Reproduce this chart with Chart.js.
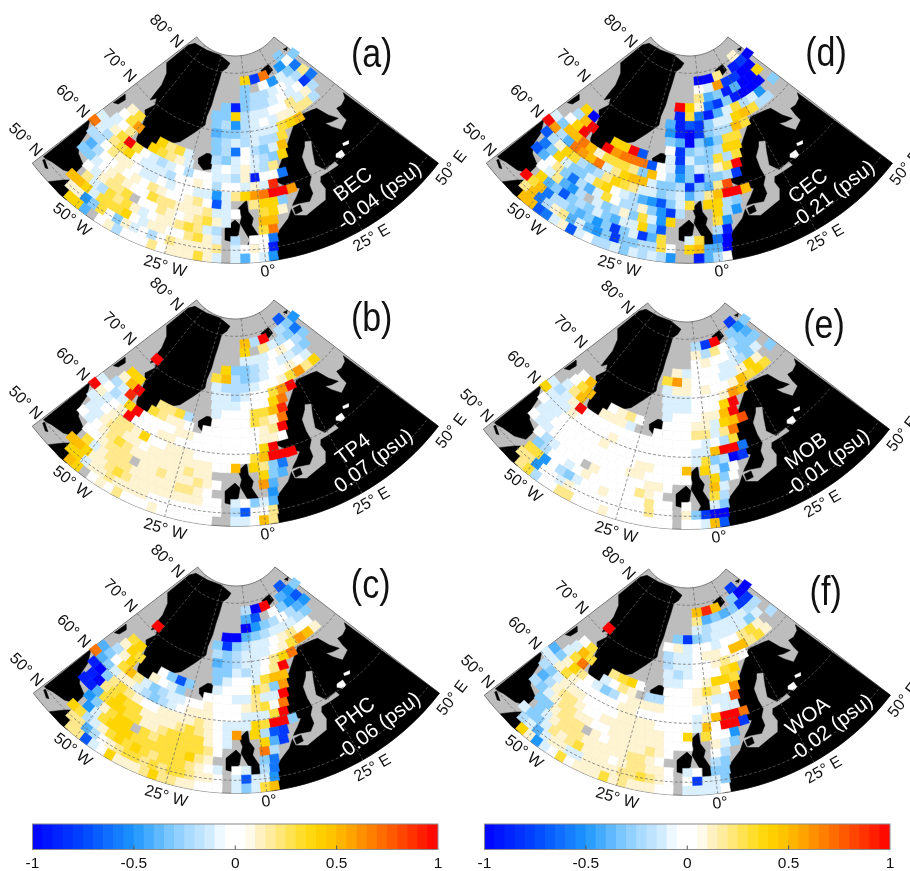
<!DOCTYPE html>
<html>
<head>
<meta charset="utf-8">
<script src="https://cdn.jsdelivr.net/npm/chart.js@4"></script>
<style>
  html, body { margin: 0; background: #fff; width: 910px; height: 871px; overflow: hidden; }
  canvas { position: absolute; }
</style>
</head>
<body>
<script>
const _ = null;

// grid rows, south to north
const rowLats = [48.6,50.1,51.6,53.1,54.6,56.1,57.6,59.1,60.6,62.1,63.6,65.1,66.6,68.1,69.6,71.1,72.6,74.1,75.6,77.1,78.6,80.1];
const rowFirstCol = [-19,-19,-19,-19,-18,-18,-18,-17,-17,-16,-15,-14,-12,-12,-2,-9,-2,-2,1,1,1,4];

// salinity differences, in tenths of psu, one list per grid row
const becRows = [
  [4,4,-4,_,0,1,-2,0,0,0,2,0,1,1,1,3,1,-1,_,-1,-4,0,-1,-5],
  [1,1,-5,-3,3,0,-3,1,-1,0,-2,0,2,1,1,1,1,2,_,-1,0,1,0,-9],
  [5,5,4,-1,3,3,3,4,0,-1,1,1,0,0,2,3,1,-1,_,-2,_,0,0,-6],
  [_,_,2,-1,-2,3,2,3,1,-1,0,1,1,2,3,2,-1,-2,_,_,_,_,3,7],
  [_,0,-1,1,2,2,3,_,0,0,2,1,0,1,2,3,1,-1,_,_,_,5,5],
  [-3,-3,-1,0,1,2,1,0,0,3,2,2,1,1,1,2,-1,-1,0,_,_,3,4,1],
  [_,-4,-2,0,0,1,0,1,0,2,1,0,0,1,2,0,-7,-1,_,_,2,4,4,-3],
  [-2,-2,0,2,1,1,0,-1,-1,0,-1,0,0,-1,-1,-5,-1,2,4,6,7,10,10,6],
  [7,-1,-2,2,3,4,0,-1,-1,-1,-2,0,0,1,0,-2,0,0,-1,1,-1,9,_,_],
  [-1,-1,1,3,10,3,0,-1,-2,-1,0,-2,0,0,-1,-1,-2,1,-9,0,0,-6,_,_],
  [_,-1,0,2,_,_,4,3,2,1,-1,_,_,-1,0,-1,1,-1,-2,2,_,_],
  [_,0,3,6,_,_,4,2,3,-1,_,_,-2,-3,-1,0,-1,-2,-3,4,_],
  [1,3,_,_,_,_,_,_,_,_,-3,-2,-6,0,-2,-3,-1,5],
  [_,_,_,_,_,_,_,_,_,_,-3,-2,-1,-2,-1,-2,-2,3,_],
  [-4,-3,-3,-2,-1,-1,-1,3,4,5],
  [_,_,_,_,_,_,_,-3,-2,-5,-2,-1,0,-1,1,1,2,2,-2],
  [-3,-3,4,-2,-1,-1,0,0,2,-1,1,-2,_],
  [_,-3,-9,-3,-2,-2,-1,0,-1,0,-8,-6],
  [-3,-2,-2,-1,0,-1,-2,2],
  [-3,_,0,-5,-1,-3,-6],
  [4,-8,7,_,-5,0,-3],
  [_,-3]
];
const tp4Rows = [
  [5,4,_,0,1,0,2,0,0,0,1,0,0,0,0,0,0,_,_,-1,-1,0,5,2],
  [4,4,-1,1,1,2,1,1,1,1,0,0,0,0,0,0,0,0,_,-2,-7,0,0,2],
  [5,5,4,1,1,2,3,2,1,1,1,1,1,1,1,1,0,0,_,-1,0,-3,-1,-4],
  [_,_,3,-1,1,2,2,2,1,1,1,1,1,2,2,1,0,_,_,_,_,_,_,-5],
  [_,0,0,1,2,2,2,_,1,1,2,1,1,1,2,1,0,_,_,_,_,6,-4],
  [0,-1,0,1,2,3,2,1,1,1,1,1,1,2,1,1,_,_,_,_,_,4,-3,-4],
  [_,-1,-1,1,2,2,1,1,0,1,1,1,1,1,1,1,0,0,5,_,4,2,-3,-6],
  [-1,-1,0,1,2,2,1,4,0,0,1,1,1,0,0,0,0,0,0,3,5,10,10,10],
  [10,1,-1,0,1,10,0,0,0,1,1,0,0,0,0,0,0,0,0,0,4,10,_,_],
  [-1,0,-2,-1,4,10,0,0,0,0,1,1,0,0,0,0,0,0,0,1,1,0,_,_],
  [_,-2,-1,9,_,_,3,2,1,1,0,_,0,0,0,0,0,0,1,2,10,_],
  [_,1,5,10,_,_,2,2,3,-2,_,_,0,0,0,0,3,2,1,7,_],
  [4,4,_,_,_,_,_,_,_,_,-1,0,0,0,3,3,5,9],
  [_,_,_,_,_,_,_,_,_,_,-1,-1,-1,0,0,0,4,7,_],
  [-1,-1,-2,-1,0,0,3,6,10,_],
  [10,_,_,_,_,_,_,-1,-2,-2,-2,-1,0,0,1,3,6,2,4],
  [3,5,-2,-3,-2,-1,0,0,1,0,-1,_,_],
  [_,4,-3,-3,-2,-1,0,-1,-1,-2,-3,_],
  [-1,-1,-1,0,1,0,-2,-3],
  [4,_,2,-1,-2,-3,-6],
  [5,-2,10,_,-2,-3,-5],
  [_,-7]
];
const phcRows = [
  [2,2,-7,-1,0,4,1,1,1,2,4,2,2,1,1,0,0,0,_,-1,-3,-1,3,5],
  [2,2,-4,-2,0,1,2,3,3,2,3,2,3,3,2,1,1,0,_,-1,-7,-1,-1,-5],
  [4,3,-2,-1,1,3,4,3,4,3,2,3,3,3,2,1,0,-1,_,0,-1,_,-2,-6],
  [_,_,-5,-1,3,4,4,4,3,3,3,3,3,3,4,2,1,_,_,_,_,_,-3,-6],
  [_,-5,-3,1,3,4,4,_,3,2,3,3,3,3,3,2,0,_,_,_,_,7,-2],
  [-9,-9,-4,3,4,4,3,3,1,1,2,3,3,3,3,1,0,-1,_,_,_,4,-4,-8],
  [_,-9,-10,2,3,4,3,3,1,1,1,1,2,3,2,1,0,-1,6,_,4,-2,-7,-8],
  [-9,-10,-3,2,3,2,1,0,0,1,1,1,1,2,1,0,-1,-1,-1,4,3,10,10,-3],
  [7,-4,-3,-1,1,1,-1,-2,-3,-2,-1,0,1,1,1,0,0,0,-1,-1,-1,3,10,_],
  [-4,-3,0,3,5,2,-1,-3,-2,-1,-1,0,0,1,0,0,0,1,2,3,0,7,_,_],
  [_,-2,1,4,_,_,1,0,-1,-3,_,_,0,0,0,-1,-1,2,-1,-1,10,_],
  [_,1,4,3,_,_,0,-3,-7,-3,_,_,-1,0,0,0,3,2,-3,6,_],
  [3,4,_,_,_,_,_,_,_,_,-3,-1,0,0,-1,3,5,5],
  [_,_,_,_,_,_,_,_,_,_,-3,-3,-1,-2,-1,0,2,10,_],
  [-4,-3,-2,-1,-1,0,2,4,7,_],
  [10,_,_,_,_,_,_,-2,-3,-2,-1,-1,-1,0,1,3,6,5,1],
  [-3,-8,-3,-2,-1,-1,0,1,2,0,0,_,_],
  [_,-10,-10,-4,-3,-2,-1,-1,-1,-2,-3,_],
  [-10,-5,-3,-2,0,-2,-4,-5],
  [-4,-7,_,0,-3,-5,-7],
  [-2,-10,10,_,-4,-5,-3],
  [_,-7]
];
const cecRows = [
  [5,5,-7,-6,-1,1,-7,-1,0,-2,-2,-1,-3,-1,-2,-1,-2,-5,_,_,-9,-4,-2,0],
  [2,5,-6,-2,1,2,-4,-1,-4,-5,-3,-8,-3,-3,-2,-2,3,0,_,4,5,-4,-4,-10],
  [10,3,5,-6,-2,-2,-3,-4,-3,-5,-3,-8,-3,-1,-8,-4,3,_,_,-1,3,_,-6,-10],
  [_,_,4,-4,-3,-7,-3,-2,-3,-1,-3,-4,-1,-1,4,-3,-7,_,_,_,_,_,-2,-9],
  [_,0,-1,2,-4,-5,-2,_,-1,-3,-2,1,-3,3,-1,-5,4,_,_,_,_,3,-5],
  [-7,-4,0,2,-3,-6,-2,-4,-1,3,0,-2,-2,1,-3,-5,-8,-2,_,_,_,4,-2,-5],
  [_,-6,-3,4,-1,-3,-3,-1,3,4,0,-1,-2,-4,-5,-7,-3,-1,3,_,4,4,-2,-3],
  [-7,-2,1,4,3,-2,-3,-2,2,4,3,2,-1,-1,-3,-2,-1,-4,-2,2,5,10,10,5],
  [10,6,-2,-4,7,6,5,7,-1,2,4,5,5,-1,-3,-3,-2,-8,-3,-4,2,8,_,_],
  [-1,-3,5,5,7,5,1,3,3,3,2,-3,5,0,-2,-5,-3,-9,-3,-3,-2,-8,_,_],
  [_,0,4,10,_,_,10,6,7,7,7,-7,0,-1,-6,-3,-1,-2,1,3,10,_],
  [_,-2,5,10,_,_,4,4,10,-7,_,_,-1,-8,-1,-3,-3,3,-2,3,_],
  [4,-10,_,_,_,_,_,_,_,_,0,-8,-3,-2,-3,-2,4,4],
  [_,_,_,_,_,_,_,_,_,_,-3,-4,-10,-3,-5,-3,3,3,_],
  [-5,-9,-10,-8,-3,-2,-2,5,3,_],
  [_,_,_,_,_,_,_,-4,-9,-7,-8,-3,-1,-1,4,5,3,-2,-2],
  [_,-9,3,-6,-9,-4,-1,3,-2,-1,-5,_,-3],
  [_,10,4,1,-6,-8,-3,-9,-10,-10,-10,_],
  [2,-4,-3,-9,-4,-10,-10,4],
  [0,-1,6,-8,-8,-10,-10],
  [-10,-10,2,_,-9,-8,-10],
  [_,1]
];
const mobRows = [
  [2,3,-2,0,0,2,2,0,0,0,1,0,0,0,0,0,0,0,_,0,0,-1,5,-7],
  [2,2,-5,0,0,-1,1,0,0,0,0,0,0,0,0,2,0,0,_,1,-3,-8,-10,-10],
  [_,3,3,-5,0,-2,-3,-1,0,0,1,0,0,0,0,2,0,0,_,0,_,_,-1,-3],
  [_,_,-3,-2,0,0,-1,0,1,0,0,0,0,0,2,1,0,_,_,_,_,_,3,-2],
  [_,0,-2,-1,0,0,0,_,1,0,0,0,0,0,1,1,0,_,_,_,_,5,-1],
  [0,-1,-1,0,0,0,0,0,0,0,0,0,1,1,0,0,0,0,0,_,_,4,-3,0],
  [_,-1,-1,0,0,0,0,0,0,0,0,0,0,1,1,0,0,0,5,_,4,-1,-4,0],
  [0,-1,-1,0,0,0,0,0,1,0,0,0,0,0,0,0,0,0,-1,3,-3,-2,-10,-8],
  [4,-1,-1,-1,1,0,0,0,0,1,0,0,0,0,0,0,0,0,-1,-1,5,10,10,-6],
  [-1,-2,-1,1,10,0,0,0,0,0,0,0,0,0,0,0,0,0,-1,0,-2,3,_,_],
  [_,-1,2,5,_,_,1,1,1,-1,_,_,0,0,0,0,2,2,-1,2,7,_],
  [_,0,3,5,_,_,0,1,2,0,_,_,0,0,0,1,1,-1,4,5,8],
  [0,5,_,_,_,_,_,_,_,_,-1,0,0,0,1,1,5,10],
  [_,_,_,_,_,_,_,_,_,_,-1,-1,-1,0,0,0,4,10,_],
  [-1,-1,-1,0,0,0,1,6,5,_],
  [_,_,_,_,_,_,_,-1,1,1,0,1,0,0,1,5,3,4,3],
  [3,6,1,0,0,0,-1,-1,1,4,1,_,-3],
  [_,1,-1,0,0,0,-1,-1,-2,-3,-1,_],
  [0,1,0,0,-1,-3,-3,-3],
  [1,-2,2,0,-2,-3,-4],
  [-2,-8,10,_,-3,-5,-3],
  [_,-8]
];
const woaRows = [
  [4,1,-5,-1,0,3,0,1,1,1,3,1,2,1,1,1,0,0,_,-1,-1,-1,-1,0],
  [-2,-1,-4,-1,1,1,-1,-1,1,1,1,1,2,2,3,2,1,0,_,0,-8,-1,-1,-3],
  [-1,-3,-3,-1,2,1,2,3,1,1,1,0,1,2,2,1,1,0,_,-1,0,_,-3,-3],
  [_,_,-3,-1,1,2,2,2,1,1,1,1,1,2,2,1,0,_,_,_,_,_,-2,-3],
  [_,-3,-3,1,2,2,2,_,1,0,1,1,1,1,2,1,0,_,_,_,_,0,-2],
  [-2,-3,-1,1,2,2,1,1,0,0,1,1,1,1,1,1,0,0,0,_,_,1,-1,-3],
  [_,-4,-2,1,2,2,1,0,0,1,1,1,1,1,1,1,0,0,4,_,3,0,0,-5],
  [-2,-3,-1,1,1,1,0,0,0,0,1,1,1,1,0,0,0,0,-1,5,0,10,10,-8],
  [-1,-1,1,3,1,0,0,0,0,0,1,1,0,0,0,0,0,0,-1,1,5,10,10,7],
  [-4,-3,1,4,2,0,-1,-3,-2,0,1,1,1,1,0,0,0,0,-1,0,-1,-1,_,_],
  [_,-1,3,7,_,_,-1,0,2,1,_,-2,-2,0,0,0,1,1,-1,-1,8,_],
  [_,-1,5,3,_,_,2,3,4,0,_,_,0,0,0,1,3,2,0,6,_],
  [0,3,_,_,_,_,_,_,_,_,-1,-1,0,0,1,4,4,3],
  [_,_,_,_,_,_,_,_,_,_,-1,-2,-1,0,0,0,3,4,_],
  [-2,-1,-1,0,0,1,2,1,0,_],
  [10,_,_,_,_,_,_,-2,-1,-1,0,1,1,0,5,5,2,3,1],
  [0,1,-1,0,0,-1,0,0,2,3,1,_,-2],
  [_,-3,-8,-3,-2,-1,-1,-1,-1,-3,-1,_],
  [-1,-2,-1,-1,-1,-1,-2,-2],
  [2,-4,-3,-4,-3,-8,-8],
  [5,9,5,_,-3,-10,-10],
  [_,-8]
];

const panelNames = ["BEC","TP4","PHC","CEC","MOB","WOA"];
const panelMeans = ["-0.04 (psu)","0.07 (psu)","-0.06 (psu)","-0.21 (psu)","-0.01 (psu)","-0.02 (psu)"];
const panelLetters = ["(a)","(b)","(c)","(d)","(e)","(f)"];
const panelRows = [becRows,tp4Rows,phcRows,cecRows,mobRows,woaRows];

// coastlines in map units (3 units = 1 px)
const baffin = [[70,470],[210,358],[200,400],[180,430],[175,460],[190,495],[165,520],[130,510],[95,485],[75,475]];
const baffinIsland = [[280,308],[315,283],[315,300],[295,312]];
const labrador = [[85,545],[130,540],[160,540],[155,570],[140,600],[118,582]];
const newfoundland = [[68,480],[74,478],[84,506],[76,504]];
const greenland = [[440,188],[505,135],[525,130],[560,150],[600,165],[630,190],[620,205],[605,215],[595,250],[585,280],[575,315],[560,350],[555,375],[520,400],[480,425],[450,430],[420,435],[400,450],[375,470],[350,440],[350,415],[365,380],[375,355],[375,330],[405,315],[410,295],[390,300],[405,280],[425,255],[440,220]];
const iceland = [[535,475],[560,460],[590,465],[600,485],[585,505],[550,510],[535,490]];
const ireland = [[615,685],[645,660],[660,675],[655,705],[635,725],[615,720]];
const britain = [[655,625],[680,600],[685,635],[700,655],[695,675],[715,705],[740,710],[735,735],[705,745],[675,750],[690,720],[675,695],[660,670],[665,650]];
const svalbard = [[722,212],[745,193],[758,210],[745,226],[732,222]];
const svalbardEast = [[790,148],[802,142],[800,152]];
const eurasia = [[970,278],[975,295],[965,315],[950,325],[965,345],[980,360],[965,390],[935,380],[915,370],[935,365],[955,355],[925,345],[890,325],[875,330],[830,350],[805,425],[780,495],[755,540],[770,545],[800,560],[840,565],[830,590],[820,610],[805,655],[775,695],[750,770]];
const baltic = [[855,425],[873,423],[877,455],[885,495],[915,510],[945,485],[955,495],[925,515],[900,530],[900,545],[915,565],[915,600],[890,620],[860,645],[825,645],[812,620],[835,612],[870,605],[880,580],[870,555],[875,530],[860,505],[847,470],[855,440]];
const denmark = [[820,625],[840,615],[847,633],[827,643]];
const onega = [[948,462],[965,450],[975,465],[965,475],[950,472]];
const ladoga = [[968,430],[985,422],[985,432],[970,437]];

const axisLabels = ["80° N","70° N","60° N","50° N","50° W","25° W","0°","25° E","50° E"];
const axisLabelX = [438,297,157,15,155,435,745,1055,1295];
const axisLabelY = [95,198,305,420,660,800,815,715,505];
const axisLabelRot = [45,45,45,45,38,16,-8,-30,-52];

const meridians = [-50,-25,0,25];
const parallels = [50,60,70,80];

const colorbarBins = [-0.975,-0.925,-0.875,-0.825,-0.775,-0.725,-0.675,-0.625,-0.575,-0.525,-0.475,-0.425,-0.375,-0.325,-0.275,-0.225,-0.175,-0.125,-0.075,-0.025,0.025,0.075,0.125,0.175,0.225,0.275,0.325,0.375,0.425,0.475,0.525,0.575,0.625,0.675,0.725,0.775,0.825,0.875,0.925,0.975];

// where the map origin of each panel sits on the page, px
const panelLeft = [20.2,19.5,20.5,474,471.4,472.4];
const panelTop = [0,263.4,530.1,0,266.1,531.8];
const letterX = [1055,1055,1049,1056,1059,1061];
const letterY = [168,170,172,165,182,185];
const nameX = [1000,1000,1004,1003,1006,1008];
const nameY = [555,560,555,560,557,555];
const meanX = [1080,1062,1074,1078,1071,1078];
const meanY = [590,595,590,585,592,590];

const colorStops = [[-1,0,0,255],[-0.75,0,70,255],[-0.5,30,150,255],[-0.3,135,205,255],[-0.2,180,222,255],[-0.1,218,240,255],[-0.05,255,255,255],[0.05,255,255,255],[0.1,255,244,210],[0.2,255,233,140],[0.3,255,223,60],[0.4,255,213,0],[0.5,255,190,0],[0.75,255,100,0],[1,255,0,0]];

function salinityColor(v) {
  for (let i = 1; i < colorStops.length; i++) {
    if (v <= colorStops[i][0]) {
      const a = colorStops[i - 1], b = colorStops[i];
      const t = (v - a[0]) / (b[0] - a[0]);
      const c = [1, 2, 3].map(k => Math.round(a[k] + (b[k] - a[k]) * t));
      return `rgb(${c[0]},${c[1]},${c[2]})`;
    }
  }
  return "rgb(255,0,0)";
}

const APEX_X = 646, APEX_Y = 22;
const CELL_WIDTH = 28.5, CELL_HEIGHT = 26.6;
const latRadius = lat => 198 + 17.7 * (80 - lat);
const lonAngle = lon => 6.8 + 0.913 * lon;

function polar(r, deg) {
  const a = deg * Math.PI / 180;
  return { x: APEX_X + r * Math.sin(a), y: APEX_Y + r * Math.cos(a) };
}

function arc(r, from, to) {
  const pts = [];
  for (let i = 0; i <= 40; i++) pts.push(polar(r, from + (to - from) * i / 40));
  return pts;
}

function outline(points, color, order) {
  const data = points.map(p => Array.isArray(p) ? { x: p[0], y: p[1] } : p);
  data.push(data[0]);
  return { data, showLine: true, fill: "shape", backgroundColor: color, borderColor: color, borderWidth: 0.5, pointRadius: 0, tension: 0, order };
}

function cellDatasets(rows) {
  const out = [];
  rows.forEach((row, i) => {
    const r = latRadius(rowLats[i]);
    const step = CELL_WIDTH / r * 180 / Math.PI;
    row.forEach((v, k) => {
      if (v === null) return;
      const mid = (rowFirstCol[i] + k) * step;
      const corners = [
        polar(r - CELL_HEIGHT / 2, mid - step / 2), polar(r - CELL_HEIGHT / 2, mid + step / 2),
        polar(r + CELL_HEIGHT / 2, mid + step / 2), polar(r + CELL_HEIGHT / 2, mid - step / 2)
      ];
      out.push(outline(corners, salinityColor(v / 10), 50));
    });
  });
  return out;
}

function graticule() {
  const lines = [];
  const style = { showLine: true, fill: false, borderColor: "#666", borderWidth: 0.7, borderDash: [3, 2], pointRadius: 0, tension: 0, order: 10 };
  meridians.forEach(lon => {
    const t = lonAngle(lon);
    lines.push({ ...style, data: [polar(146, t), polar(768, t)] });
  });
  parallels.forEach(lat => {
    lines.push({ ...style, data: arc(latRadius(lat), -52.5, 52.5) });
  });
  return lines;
}

const labelPlugin = {
  id: "mapText",
  afterDraw(chart, args, opts) {
    const { ctx, scales: { x, y } } = chart;
    const put = (text, px, py, deg, font, color, sx) => {
      ctx.save();
      ctx.translate(x.getPixelForValue(px), y.getPixelForValue(py));
      ctx.rotate(deg * Math.PI / 180);
      if (sx) ctx.scale(sx, 1);
      ctx.font = font;
      ctx.fillStyle = color;
      ctx.textAlign = "center";
      ctx.textBaseline = "middle";
      ctx.fillText(text, 0, 0);
      ctx.restore();
    };
    axisLabels.forEach((t, i) => put(t, axisLabelX[i], axisLabelY[i], axisLabelRot[i], "16px 'Liberation Sans'", "#111"));
    const p = opts.panel;
    put(panelLetters[p], letterX[p], letterY[p], 0, "40px 'Liberation Sans'", "#111", 0.85);
    put(panelNames[p], nameX[p], nameY[p], -37, "20.5px 'Liberation Sans'", "#fff");
    put(panelMeans[p], meanX[p], meanY[p], -37, "20.5px 'Liberation Sans'", "#fff");
  }
};

function drawPanel(p) {
  const canvas = document.createElement("canvas");
  canvas.width = 480;
  canvas.height = 320;
  canvas.style.left = (panelLeft[p] - 20) + "px";
  canvas.style.top = (panelTop[p] - 20) + "px";
  document.body.appendChild(canvas);

  const sector = [...arc(146, -52.5, 52.5), ...arc(768, 52.5, -52.5)];
  const datasets = [
    { ...outline(sector, "#bdbdbd", 100), borderColor: "#777", borderWidth: 1 },
    outline([...eurasia, ...arc(768, 8, 52.5)], "#000", 90),
    outline(baffin, "#000", 90),
    outline(baffinIsland, "#000", 90),
    outline(labrador, "#000", 90),
    outline(newfoundland, "#000", 90),
    outline(greenland, "#000", 90),
    outline(iceland, "#000", 90),
    outline(ireland, "#000", 90),
    outline(britain, "#000", 90),
    outline(svalbard, "#000", 90),
    outline(svalbardEast, "#000", 90),
    outline(baltic, "#bdbdbd", 80),
    outline(denmark, "#000", 70),
    outline(onega, "#fff", 80),
    outline(ladoga, "#fff", 80),
    ...cellDatasets(panelRows[p]),
    ...graticule()
  ];

  new Chart(canvas, {
    type: "scatter",
    data: { datasets },
    options: {
      responsive: false,
      animation: false,
      events: [],
      layout: { padding: 0 },
      scales: {
        x: { type: "linear", display: false, min: -60, max: 1380 },
        y: { type: "linear", display: false, min: -60, max: 900, reverse: true }
      },
      plugins: { legend: { display: false }, tooltip: { enabled: false }, mapText: { panel: p } }
    },
    plugins: [labelPlugin]
  });
}

const barFrame = {
  id: "barFrame",
  afterDraw(chart) {
    const { ctx, chartArea: a, scales: { x } } = chart;
    ctx.save();
    ctx.strokeStyle = "#8c8c8c";
    ctx.lineWidth = 1;
    ctx.strokeRect(a.left, a.top, a.right - a.left, a.bottom - a.top);
    ctx.strokeStyle = "#555";
    [-0.5, 0, 0.5].forEach(v => {
      const px = x.getPixelForValue(v);
      ctx.beginPath();
      ctx.moveTo(px, a.bottom);
      ctx.lineTo(px, a.bottom - 4);
      ctx.stroke();
    });
    ctx.restore();
  }
};

function drawColorbar(left) {
  const canvas = document.createElement("canvas");
  canvas.width = 470;
  canvas.height = 56;
  canvas.style.left = left + "px";
  canvas.style.top = "815px";
  document.body.appendChild(canvas);
  new Chart(canvas, {
    type: "bar",
    data: {
      datasets: [{
        data: colorbarBins.map(v => ({ x: v, y: 1 })),
        backgroundColor: colorbarBins.map(salinityColor),
        barPercentage: 1,
        categoryPercentage: 1,
        borderWidth: 0
      }]
    },
    options: {
      responsive: false,
      animation: false,
      events: [],
      layout: { padding: { left: 32.5, right: 32, top: 9, bottom: 0 } },
      scales: {
        x: {
          type: "linear", min: -1, max: 1, offset: false,
          grid: { display: false, offset: false, drawTicks: false },
          border: { display: false },
          afterFit: scale => { scale.height = 21.5; },
          ticks: { stepSize: 0.5, maxRotation: 0, padding: 5, color: "#111", font: { family: "'Liberation Sans'", size: 15.5 }, callback: v => String(v) }
        },
        y: { display: false, min: 0, max: 1 }
      },
      plugins: { legend: { display: false }, tooltip: { enabled: false } }
    },
    plugins: [barFrame]
  });
}

Chart.defaults.font.family = "'Liberation Sans'";
for (let p = 0; p < 6; p++) drawPanel(p);
drawColorbar(0);
drawColorbar(452);
</script>
</body>
</html>
